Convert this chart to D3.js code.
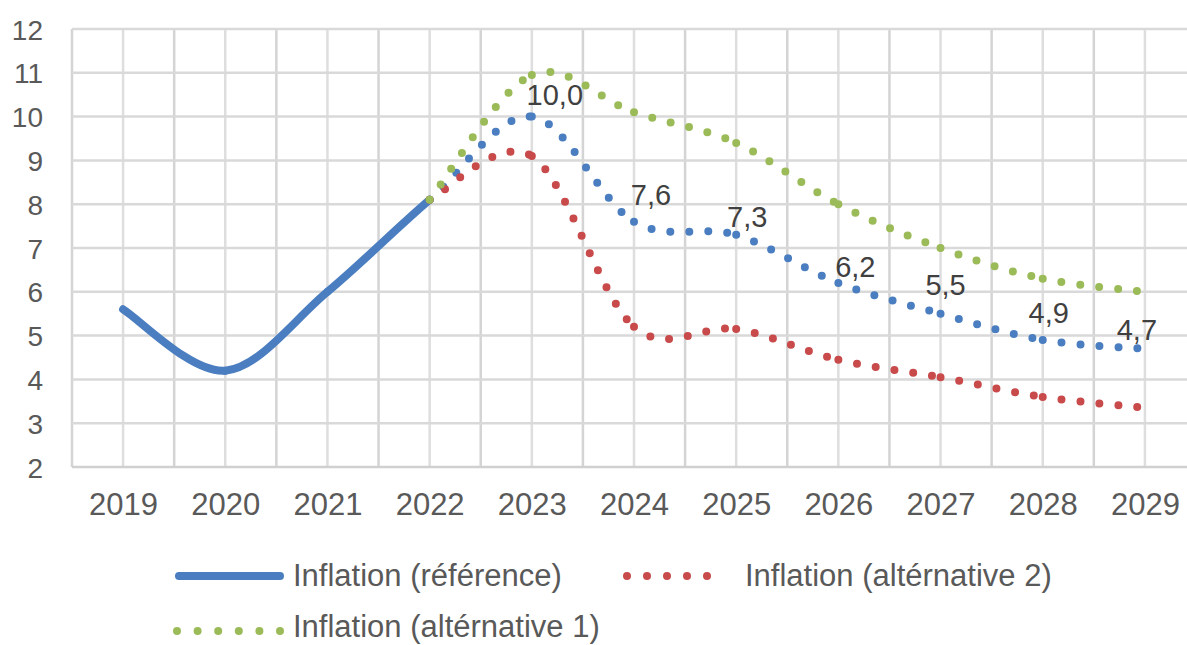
<!DOCTYPE html>
<html>
<head>
<meta charset="utf-8">
<script src="https://cdn.jsdelivr.net/npm/d3@7"></script>
<style>
  html, body { margin: 0; padding: 0; background: #fff; }
  svg { display: block; }
</style>
</head>
<body>
<svg id="chart" width="1187" height="645"></svg>
<script>
// ---- data ----
const years = [2019, 2020, 2021, 2022, 2023, 2024, 2025, 2026, 2027, 2028, 2029];
const reference = [5.6, 4.2, 6.0, 8.1, 10.0, 7.6, 7.3, 6.2, 5.5, 4.9, 4.7];
const solidUntilYear = 2022;
const altYears = [2022, 2023, 2024, 2025, 2026, 2027, 2028, 2029];
const alt2 = [8.1, 9.1, 5.2, 5.15, 4.45, 4.05, 3.6, 3.35];
const alt1 = [8.1, 10.95, 10.1, 9.4, 8.0, 7.0, 6.3, 6.0];
const yTicks = [2, 3, 4, 5, 6, 7, 8, 9, 10, 11, 12];
const labelYears = [2023, 2024, 2025, 2026, 2027, 2028, 2029];
const seriesNames = ["Inflation (référence)", "Inflation (altérnative 2)", "Inflation (altérnative 1)"];

// ---- layout / style (not data) ----
const labelOffsets = [[23, -12], [17, -17], [11, -8], [17, -6], [5, -19], [6, -17], [-8, -9]];
const colors = { ref: "#4a7ec0", alt2: "#c84a4a", alt1: "#9bbb59" };
const textColor = "#595959";
const font = "'Liberation Sans', Arial, sans-serif";

const svg = d3.select("#chart");
svg.append("rect").attr("width", 1187).attr("height", 645).attr("fill", "#fff");

const x = d3.scaleLinear().domain([2018.5, 2029.5]).range([72, 1196]);
const y = d3.scaleLinear().domain([2, 12]).range([467, 29]);

// grid
const grid = svg.append("g");
const vLines = d3.range(2018.5, 2029.51, 0.5);
grid.selectAll("line.v").data(vLines).join("line")
  .attr("x1", d => x(d)).attr("x2", d => x(d))
  .attr("y1", y(12)).attr("y2", y(2))
  .attr("stroke", d => Number.isInteger(d) ? "#dedede" : "#d4d4d4")
  .attr("stroke-width", 2.5);
grid.selectAll("line.h").data(yTicks).join("line")
  .attr("x1", x(2018.5)).attr("x2", x(2029.5))
  .attr("y1", d => y(d)).attr("y2", d => y(d))
  .attr("stroke", d => d === 2 ? "#d0d0d0" : "#d9d9d9")
  .attr("stroke-width", 2.5);

// axes labels
const yAxis = d3.axisLeft(y).tickValues(yTicks).tickSize(0).tickPadding(0).tickFormat(d3.format("d"));
const yg = svg.append("g").attr("transform", "translate(43,0)").call(yAxis);
yg.select(".domain").remove();
yg.selectAll("text").attr("font-family", font).attr("font-size", 28).attr("fill", textColor).attr("dy", "0.36em");

const xAxis = d3.axisBottom(x).tickValues(years).tickSize(0).tickPadding(0).tickFormat(d3.format("d"));
const xg = svg.append("g").attr("transform", "translate(0,515)").call(xAxis);
xg.select(".domain").remove();
xg.selectAll("text").attr("font-family", font).attr("font-size", 31).attr("fill", textColor).attr("dy", 0);

// Catmull-Rom segments (Excel-like smoothing), one path per segment
function segmentPaths(xs, vs) {
  const pts = xs.map((d, i) => [x(d), y(vs[i])]);
  const n = pts.length, out = [];
  for (let i = 0; i < n - 1; i++) {
    const p0 = pts[Math.max(i - 1, 0)], p1 = pts[i], p2 = pts[i + 1], p3 = pts[Math.min(i + 2, n - 1)];
    const p = d3.path();
    p.moveTo(p1[0], p1[1]);
    p.bezierCurveTo(
      p1[0] + (p2[0] - p0[0]) / 6, p1[1] + (p2[1] - p0[1]) / 6,
      p2[0] - (p3[0] - p1[0]) / 6, p2[1] - (p3[1] - p1[1]) / 6,
      p2[0], p2[1]);
    out.push({ d: p.toString(), start: xs[i] });
  }
  return out;
}

const lines = svg.append("g").attr("fill", "none").attr("stroke-linecap", "round").attr("stroke-linejoin", "round");
const dotDash = "0 19";
const dotW = 8;

// reference (solid until 2022, dotted after)
lines.selectAll("path.ref").data(segmentPaths(years, reference)).join("path")
  .attr("d", s => s.d)
  .attr("stroke", colors.ref)
  .attr("stroke-width", s => s.start < solidUntilYear ? 8 : dotW)
  .attr("stroke-dasharray", s => s.start < solidUntilYear ? null : dotDash);

lines.selectAll("path.a2").data(segmentPaths(altYears, alt2)).join("path")
  .attr("d", s => s.d).attr("stroke", colors.alt2).attr("stroke-width", dotW).attr("stroke-dasharray", dotDash);

lines.selectAll("path.a1").data(segmentPaths(altYears, alt1)).join("path")
  .attr("d", s => s.d).attr("stroke", colors.alt1).attr("stroke-width", dotW).attr("stroke-dasharray", dotDash);

// data labels
const labelData = labelYears.map((yr, i) => ({ yr, v: reference[years.indexOf(yr)], off: labelOffsets[i] }));
svg.append("g").selectAll("text").data(labelData).join("text")
  .attr("x", d => x(d.yr) + d.off[0])
  .attr("y", d => y(d.v) + d.off[1])
  .attr("text-anchor", "middle")
  .attr("font-family", font).attr("font-size", 29).attr("fill", "#404040")
  .text(d => d.v.toFixed(1).replace(".", ","));

// legend
const legend = svg.append("g");
function legendText(tx, ty, t) {
  legend.append("text").attr("x", tx).attr("y", ty)
    .attr("font-family", font).attr("font-size", 31).attr("fill", textColor).text(t);
}
legend.append("line").attr("x1", 179).attr("x2", 280).attr("y1", 576).attr("y2", 576)
  .attr("stroke", colors.ref).attr("stroke-width", 8).attr("stroke-linecap", "round");
legendText(293, 586, seriesNames[0]);

legend.append("line").attr("x1", 627).attr("x2", 727).attr("y1", 576).attr("y2", 576)
  .attr("stroke", colors.alt2).attr("stroke-width", dotW).attr("stroke-linecap", "round").attr("stroke-dasharray", "0 20");
legendText(745, 586, seriesNames[1]);

legend.append("line").attr("x1", 177).attr("x2", 280).attr("y1", 631).attr("y2", 631)
  .attr("stroke", colors.alt1).attr("stroke-width", dotW).attr("stroke-linecap", "round").attr("stroke-dasharray", "0 20.6");
legendText(293, 637, seriesNames[2]);
</script>
</body>
</html>
